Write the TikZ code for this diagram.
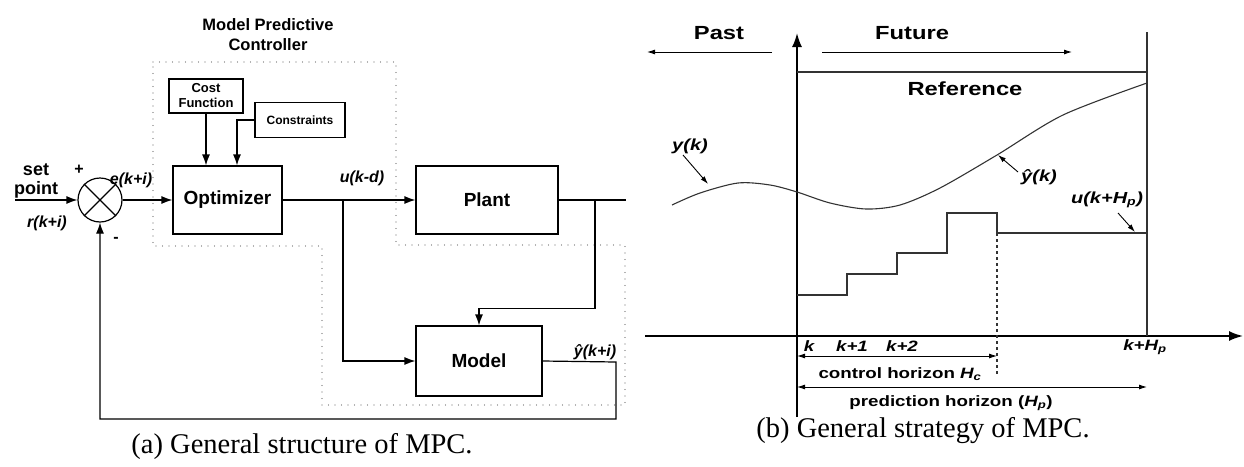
\documentclass[tikz,border=0pt]{standalone}
\usepackage{fontspec}
\setmainfont{Liberation Serif}
\setsansfont{Liberation Sans}
\newfontfamily\widesf[FakeStretch=1.25]{Liberation Sans}
\usetikzlibrary{calc, positioning, arrows.meta}

\newcommand{\blkfont}{\sffamily\bfseries\fontsize{19}{22}\selectfont}
\newcommand{\labfont}{\sffamily\bfseries\itshape\fontsize{16}{18}\selectfont}
\newcommand{\stratfont}[1]{\widesf\bfseries\fontsize{#1}{#1}\selectfont}

\tikzset{
    blk/.style={draw, line width=1.2pt, font=\blkfont},
    smallblk/.style={draw, line width=1.2pt, align=center, inner sep=1pt},
    sumc/.style={draw, circle, line width=1.2pt, minimum size=44pt, inner sep=0pt},
    arr/.style={line width=1.2pt, -{Latex[length=11pt,width=8pt]}},
    wire/.style={line width=1.2pt},
    sarr/.style={line width=0.9pt, -{Latex[length=8pt,width=5pt]}},
    axis/.style={line width=1.8pt, -{Latex[length=14pt,width=10pt]}},
    thin line/.style={line width=1.1pt, draw=black!80},
    ctrlbox/.style={draw=black!60, line width=1.4pt, line cap=round, dash pattern=on 0pt off 6.5pt},
    lab/.style={font=\labfont, inner sep=1pt},
    captext/.style={font=\rmfamily\fontsize{28.5}{31}\selectfont},
}

\begin{document}
\begin{tikzpicture}[x=1pt, y=-1pt]
    \useasboundingbox (0,0) rectangle (1244,466);

    % ---- (a) structure ----
    \node[font=\sffamily\bfseries\fontsize{16.5}{20}\selectfont, align=center] (ttl) at (268,35) {Model Predictive\\Controller};
    \draw[ctrlbox] (153,62) -- (396,62) -- (396,245) -- (625,245) -- (625,405)
        -- (322,405) -- (322,246) -- (153,246) -- cycle;

    \node[sumc] (sum) at (100,200) {};
    \draw[wire] (sum.45) -- (sum.225) (sum.135) -- (sum.-45);
    \node[blk, minimum width=109, minimum height=68] (opt) at (227.5,200) {Optimizer};
    \node[blk, minimum width=142, minimum height=68] (plant) at (487,200) {Plant};
    \node[blk, minimum width=126, minimum height=70] (model) at (479,361) {Model};
    \node[smallblk, minimum width=74, minimum height=34, font=\sffamily\bfseries\fontsize{13}{15}\selectfont] (cost) at (206,96) {Cost\\Function};
    \node[smallblk, minimum width=90, minimum height=35, font=\sffamily\bfseries\fontsize{12}{14}\selectfont] (cons) at (300,120) {Constraints};

    \coordinate (sp) at (15,200);
    \coordinate (br1) at (343,200);
    \coordinate (br2) at (595,200);
    \coordinate (pout) at (626,200);
    \coordinate (mout) at (616,362);

    \draw[arr] (sp) -- (sum.west);
    \draw[arr] (sum.east) -- (opt.west);
    \draw[arr] (cost.south) -- (cost.south |- opt.north);
    \draw[arr] (cons.west) -| ($(opt.north)+(9.5,0)$);
    \draw[arr] (opt.east) -- (plant.west);
    \draw[arr] (br1) |- (model.west);
    \draw[wire] (plant.east) -- (pout);
    \draw[arr] (br2) |- ($(model.north)+(0,-17)$) -- (model.north);
    \draw[arr] (model.east) -- (mout) -- (mout |- 0,419) -| (sum.south);

    \node[font=\sffamily\bfseries\fontsize{18}{19}\selectfont, align=center] (setp) at (36,181) {set\\point};
    \node[lab] (rlab) at (47,223) {r(k+i)};
    \node[lab] (elab) at (131,180) {e(k+i)};
    \node[lab] (ulab) at (362,178) {u(k-d)};
    \node[lab] (yhlab) at (595,352) {\^{y}(k+i)};
    \node[font=\sffamily\bfseries\fontsize{16}{16}\selectfont] (plus) at (79,170) {+};
    \node[font=\sffamily\bfseries\fontsize{16}{16}\selectfont] (minus) at (116,240) {-};

    \node[captext] (capa) at (302,446) {(a) General structure of MPC.};

    % ---- (b) strategy ----
    \coordinate (O) at (797,336);
    \draw[axis] (797,417) -- (797,33);
    \draw[axis] (645,336) -- (1243,336);
    \draw[thin line] (1147,32) -- (1147,336);
    \draw[thin line] (797,72) -- (1147,72);

    \node[font=\stratfont{19}] (past) at (719,33) {Past};
    \node[font=\stratfont{19}] (fut) at (912,33) {Future};
    \node[font=\stratfont{19}] (ref) at (965,89) {Reference};
    \draw[sarr] (772,52) -- (647,52);
    \draw[sarr] (822,52) -- (1072,52);

    % predicted output
    \draw[thin line] plot[smooth] coordinates {(672,205) (700,193) (738,183) (770,185)
        (797,192) (830,203) (866,209) (900,205) (940,188) (997,155) (1063,115) (1147,83)};
    % control moves
    \draw[thin line] (797,295) -| (847,274) -| (897,253) -| (947,213) -| (997,233) -- (1147,233);
    \draw[thin line, dashed] (997,233) -- (997,375);

    \node[font=\stratfont{16}\itshape] (yk) at (690,146) {y(k)};
    \node[font=\stratfont{16}\itshape] (yhk) at (1039,177) {\^{y}(k)};
    \node[font=\stratfont{16}\itshape] (uk) at (1107,200) {u(k+H\textsubscript{p})};
    \draw[sarr] (683,155) -- (708,184);
    \draw[sarr] (1018,172) -- (998,155);
    \draw[sarr] (1118,213) -- (1135,232);

    \node[font=\stratfont{15}\itshape] (k0) at (809,346) {k};
    \node[font=\stratfont{15}\itshape] (k1) at (852,346) {k+1};
    \node[font=\stratfont{15}\itshape] (k2) at (902,346) {k+2};
    \node[font=\stratfont{15}\itshape] (kp) at (1145,347) {k+H\textsubscript{p}};

    \draw[sarr, {Latex[length=8pt,width=5pt]}-{Latex[length=8pt,width=5pt]}] (797,356) -- (997,356);
    \draw[sarr, {Latex[length=8pt,width=5pt]}-{Latex[length=8pt,width=5pt]}] (797,387) -- (1147,387);
    \node[font=\stratfont{15}] (chor) at (900,374) {control horizon \textit{H\textsubscript{c}}};
    \node[font=\stratfont{15}] (phor) at (951,403) {prediction horizon (\textit{H\textsubscript{p}})};

    \node[captext] (capb) at (923,431) {(b) General strategy of MPC.};
\end{tikzpicture}
\end{document}
